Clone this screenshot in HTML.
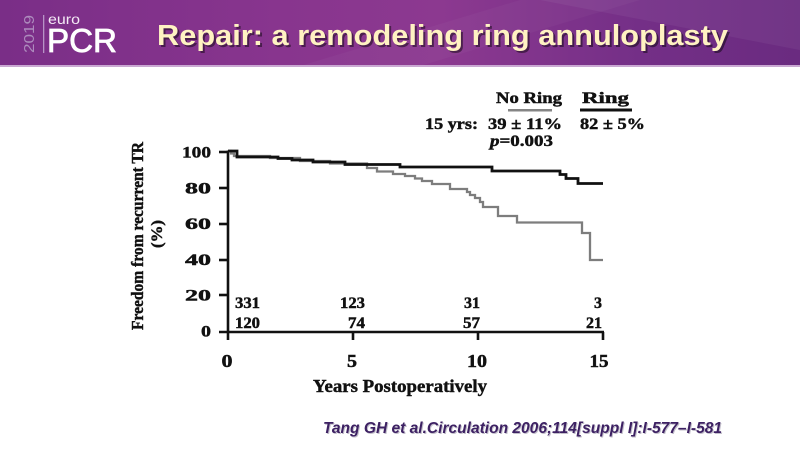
<!DOCTYPE html>
<html>
<head>
<meta charset="utf-8">
<style>
  html,body{margin:0;padding:0;background:#fff;}
  body{width:800px;height:450px;overflow:hidden;}
  svg{display:block;}
  .ser{font-family:"Liberation Serif",serif;font-weight:bold;fill:#111;stroke:#111;stroke-width:0.45;}
</style>
</head>
<body>
<svg width="800" height="450" viewBox="0 0 800 450" xmlns="http://www.w3.org/2000/svg">
  <defs>
    <linearGradient id="hdr" x1="0" y1="0" x2="1" y2="0">
      <stop offset="0" stop-color="#7a2e87"/>
      <stop offset="0.35" stop-color="#88358e"/>
      <stop offset="0.55" stop-color="#8c3990"/>
      <stop offset="0.8" stop-color="#742f87"/>
      <stop offset="1" stop-color="#6a2b80"/>
    </linearGradient>
  </defs>
  <!-- header -->
  <rect x="0" y="0" width="800" height="66" fill="url(#hdr)"/>
  <polygon points="540,0 800,0 800,50" fill="#ffffff" opacity="0.05"/>
  <polygon points="300,66 520,0 640,0 420,66" fill="#ffffff" opacity="0.03"/>
  <rect x="0" y="65" width="800" height="2" fill="#c9a8d2"/>

  <!-- logo -->
  <text transform="translate(34,53) rotate(-90)" font-family="Liberation Sans, sans-serif" font-size="15" fill="#ad8bbd" textLength="38" lengthAdjust="spacingAndGlyphs">2019</text>
  <rect x="43" y="15" width="1.3" height="38" fill="#b793c6"/>
  <text x="48" y="24" font-family="Liberation Sans, sans-serif" font-size="14" fill="#f4eaf6" textLength="32" lengthAdjust="spacingAndGlyphs">euro</text>
  <text x="47" y="52" font-family="Liberation Sans, sans-serif" font-size="33" fill="#ffffff" stroke="#ffffff" stroke-width="0.8" textLength="70" lengthAdjust="spacingAndGlyphs">PCR</text>

  <!-- title -->
  <text x="159" y="47" font-family="Liberation Sans, sans-serif" font-weight="bold" font-size="29" fill="#000" opacity="0.45" textLength="571" lengthAdjust="spacingAndGlyphs">Repair: a remodeling ring annuloplasty</text>
  <text x="157" y="45" font-family="Liberation Sans, sans-serif" font-weight="bold" font-size="29" fill="#fff2c2" textLength="571" lengthAdjust="spacingAndGlyphs">Repair: a remodeling ring annuloplasty</text>

  <!-- legend -->
  <text class="ser" x="496" y="103" font-size="16" textLength="66" lengthAdjust="spacingAndGlyphs">No Ring</text>
  <text class="ser" x="582" y="103" font-size="16" textLength="47" lengthAdjust="spacingAndGlyphs">Ring</text>
  <rect x="508" y="109" width="44" height="2.5" fill="#858585"/>
  <rect x="580" y="108.5" width="52" height="3" fill="#111"/>
  <text class="ser" x="425" y="129" font-size="16" textLength="53" lengthAdjust="spacingAndGlyphs">15 yrs:</text>
  <text class="ser" x="488" y="129" font-size="16" textLength="74" lengthAdjust="spacingAndGlyphs">39 ± 11%</text>
  <text class="ser" x="580" y="129" font-size="16" textLength="65" lengthAdjust="spacingAndGlyphs">82 ± 5%</text>
  <text class="ser" x="490" y="146" font-size="16" textLength="63" lengthAdjust="spacingAndGlyphs"><tspan font-style="italic">p</tspan>=0.003</text>

  <!-- y axis label -->
  <text class="ser" transform="translate(143,236) rotate(-90)" text-anchor="middle" font-size="17" textLength="188" lengthAdjust="spacingAndGlyphs">Freedom from recurrent TR</text>
  <text class="ser" transform="translate(162,234) rotate(-90)" text-anchor="middle" font-size="16" textLength="28" lengthAdjust="spacingAndGlyphs">(%)</text>

  <!-- y ticks labels -->
  <g class="ser" font-size="16" text-anchor="end">
    <text x="211" y="157.5" textLength="29" lengthAdjust="spacingAndGlyphs">100</text>
    <text x="211" y="193.5" textLength="26" lengthAdjust="spacingAndGlyphs">80</text>
    <text x="211" y="229" textLength="26" lengthAdjust="spacingAndGlyphs">60</text>
    <text x="211" y="265" textLength="26" lengthAdjust="spacingAndGlyphs">40</text>
    <text x="211" y="300.5" textLength="26" lengthAdjust="spacingAndGlyphs">20</text>
    <text x="211" y="336.5" textLength="10" lengthAdjust="spacingAndGlyphs">0</text>
  </g>

  <!-- axes -->
  <g stroke="#111" stroke-width="2.6" fill="none">
    <line x1="228" y1="150.5" x2="228" y2="333"/>
    <line x1="219" y1="332" x2="604" y2="332"/>
    <line x1="219" y1="152" x2="228" y2="152"/>
    <line x1="219" y1="188" x2="228" y2="188"/>
    <line x1="219" y1="224" x2="228" y2="224"/>
    <line x1="219" y1="260" x2="228" y2="260"/>
    <line x1="219" y1="295" x2="228" y2="295"/>
    <line x1="228" y1="332" x2="228" y2="340"/>
    <line x1="353" y1="332" x2="353" y2="340"/>
    <line x1="478" y1="332" x2="478" y2="340"/>
    <line x1="603" y1="332" x2="603" y2="340"/>
  </g>

  <!-- x tick labels -->
  <g class="ser" font-size="18" text-anchor="middle">
    <text x="227" y="367" textLength="11" lengthAdjust="spacingAndGlyphs">0</text>
    <text x="352" y="367" textLength="10" lengthAdjust="spacingAndGlyphs">5</text>
    <text x="477" y="367" textLength="20" lengthAdjust="spacingAndGlyphs">10</text>
    <text x="599" y="367" textLength="19" lengthAdjust="spacingAndGlyphs">15</text>
  </g>
  <text class="ser" x="313" y="392" font-size="18" textLength="174" lengthAdjust="spacingAndGlyphs">Years Postoperatively</text>

  <!-- numbers at risk -->
  <g class="ser" font-size="15.5">
    <text x="235" y="308" textLength="25" lengthAdjust="spacingAndGlyphs">331</text>
    <text x="235" y="328" textLength="25" lengthAdjust="spacingAndGlyphs">120</text>
    <text x="365" y="308" text-anchor="end" textLength="25" lengthAdjust="spacingAndGlyphs">123</text>
    <text x="365" y="328" text-anchor="end" textLength="17" lengthAdjust="spacingAndGlyphs">74</text>
    <text x="480" y="308" text-anchor="end" textLength="16" lengthAdjust="spacingAndGlyphs">31</text>
    <text x="480" y="328" text-anchor="end" textLength="17" lengthAdjust="spacingAndGlyphs">57</text>
    <text x="602" y="308" text-anchor="end" textLength="8" lengthAdjust="spacingAndGlyphs">3</text>
    <text x="602" y="328" text-anchor="end" textLength="16" lengthAdjust="spacingAndGlyphs">21</text>
  </g>

  <!-- No Ring (gray) -->
  <path d="M228,151 H231 V153.5 H234 V156 H270 V158 H300 V161 H330 V163.5 H367 V168 H377 V171.5 H393 V174 H405 V176 H415 V178.5 H422 V181 H432 V184 H450 V189 H467 V192 H470 V195 H475 V198 H480 V202 H483 V207 H498 V216 H517 V222.5 H582 V233 H590 V260 H603"
        fill="none" stroke="#7d7d7d" stroke-width="2.3"/>
  <!-- Ring (black) -->
  <path d="M228,151 H237 V157 H278 V158.5 H292 V160 H313 V162 H345 V164.5 H400 V167 H492 V171 H560 V174.5 H566 V178.5 H578 V183.5 H603"
        fill="none" stroke="#111" stroke-width="2.8"/>

  <!-- citation -->
  <text x="324" y="434" font-family="Liberation Sans, sans-serif" font-weight="bold" font-style="italic" font-size="16" fill="#9a93a8" opacity="0.6" textLength="399" lengthAdjust="spacingAndGlyphs">Tang GH et al.Circulation 2006;114[suppl I]:I-577–I-581</text>
  <text x="323" y="433" font-family="Liberation Sans, sans-serif" font-weight="bold" font-style="italic" font-size="16" fill="#3d2163" textLength="399" lengthAdjust="spacingAndGlyphs">Tang GH et al.Circulation 2006;114[suppl I]:I-577–I-581</text>
</svg>
</body>
</html>
